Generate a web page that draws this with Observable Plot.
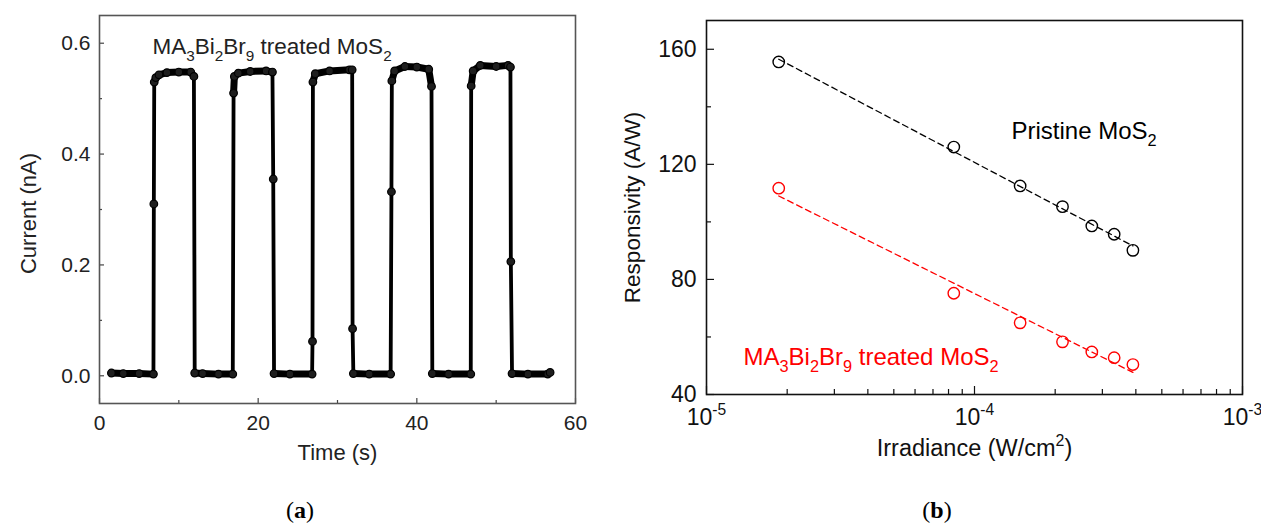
<!DOCTYPE html>
<html><head><meta charset="utf-8">
<script src="https://cdn.jsdelivr.net/npm/d3@7"></script>
<script src="https://cdn.jsdelivr.net/npm/@observablehq/plot@0.6"></script>
<style>
body{margin:0;background:#fff;}
#wrap{position:relative;width:1261px;height:524px;overflow:hidden;background:#fff;font-family:Arial,"Liberation Sans",sans-serif;}
.panel{position:absolute;top:0;}
.cap{position:absolute;top:497px;line-height:26px;font-family:"Liberation Serif","Times New Roman",serif;font-size:24px;color:#000;transform:translateX(-50%);white-space:nowrap;}
</style></head><body>
<div id="wrap">
  <div id="pa" class="panel" style="left:0px"></div>
  <div id="pb" class="panel" style="left:600px"></div>
  <div class="cap" style="left:300px">(<b>a</b>)</div>
  <div class="cap" style="left:937px">(<b>b</b>)</div>
</div>
<script>
// ---------- Panel (a): photocurrent switching ----------
const timeS = [1.5, 3, 5, 6.8, 6.85, 6.9, 7.1, 7.5, 8.5, 10, 11.5, 11.9, 12.0, 13, 15, 16.8, 16.9, 17.0, 17.5, 19, 21, 21.8, 21.9, 22.0, 24, 26.8, 26.85, 26.9, 27.2, 29, 31.5, 31.85, 31.9, 32.0, 34, 36.7, 36.8, 36.85, 37.2, 38.5, 40, 41.5, 41.85, 41.95, 44, 46.8, 46.85, 47.1, 48, 50, 51.5, 51.8, 51.85, 52.0, 54, 56.5, 56.8];
const currentNA = [0.005, 0.004, 0.004, 0.003, 0.31, 0.53, 0.538, 0.543, 0.547, 0.548, 0.548, 0.54, 0.005, 0.004, 0.003, 0.003, 0.51, 0.54, 0.546, 0.549, 0.55, 0.548, 0.355, 0.004, 0.003, 0.003, 0.062, 0.53, 0.545, 0.55, 0.552, 0.552, 0.085, 0.004, 0.003, 0.003, 0.332, 0.532, 0.55, 0.558, 0.557, 0.553, 0.522, 0.004, 0.003, 0.003, 0.523, 0.55, 0.56, 0.558, 0.56, 0.557, 0.206, 0.004, 0.003, 0.003, 0.006];
const xTicksA = [0, 20, 40, 60];
const xMinorA = [10, 30, 50];
const yTicksA = [0, 0.2, 0.4, 0.6];
const yMinorA = [0.1, 0.3, 0.5];
const xLabelA = "Time (s)";
const yLabelA = "Current (nA)";
const noteA = "MA_{3}Bi_{2}Br_{9} treated MoS_{2}";

// ---------- Panel (b): responsivity vs irradiance ----------
const irradiance = [1.86e-5, 8.37e-5, 1.48e-4, 2.13e-4, 2.74e-4, 3.32e-4, 3.90e-4];
const respPristine = [155.6, 126.0, 112.5, 105.3, 98.6, 95.7, 90.1];
const respTreated = [111.7, 75.2, 64.9, 58.3, 54.8, 52.8, 50.4];
const seriesNames = ["Pristine MoS_{2}", "MA_{3}Bi_{2}Br_{9} treated MoS_{2}"];
const seriesColors = ["#000000", "#ff0000"];
const xTicksB = [1e-5, 1e-4, 1e-3];
const yTicksB = [40, 80, 120, 160];
const yMinorB = [60, 100, 140];
const xLabelB = "Irradiance (W/cm^{2})";
const yLabelB = "Responsivity (A/W)";

// ---------- helpers ----------
function rich(el){
  const s = el.textContent;
  if(!/[_^]\{/.test(s)) return;
  while(el.firstChild) el.removeChild(el.firstChild);
  const re = /([_^])\{([^}]*)\}/g; let last = 0, m, shift = 0;
  const add = (txt, kind) => {
    const ts = document.createElementNS("http://www.w3.org/2000/svg","tspan");
    ts.textContent = txt;
    if(kind){
      ts.setAttribute("font-size","68%");
      const d = kind === "_" ? 0.45 : -0.62;
      ts.setAttribute("dy", d + "em");
      shift = d * 0.68;
    } else if(shift){
      ts.setAttribute("dy", (-shift) + "em"); shift = 0;
    }
    el.appendChild(ts);
  };
  while((m = re.exec(s))){ if(m.index > last) add(s.slice(last, m.index)); add(m[2], m[1]); last = re.lastIndex; }
  if(last < s.length) add(s.slice(last));
}
function richAll(svg){
  svg.querySelectorAll("text, tspan").forEach(n => { if(n.children.length === 0) rich(n); });
}
function fitLine(xs, ys){
  const u = xs.map(Math.log10);
  const mu = d3.mean(u), my = d3.mean(ys);
  const b = d3.sum(u, (v,i) => (v-mu)*(ys[i]-my)) / d3.sum(u, v => (v-mu)**2);
  const ends = [d3.min(xs), d3.max(xs)];
  return ends.map(x => ({x, y: my + b*(Math.log10(x)-mu)}));
}

// ---------- Panel (a) ----------
const WA = 600, HA = 490, mA = {left:99, right:25, top:15, bottom:87};
const pwA = WA - mA.left - mA.right, phA = HA - mA.top - mA.bottom;
const ptsA = timeS.map((t,k) => ({t, i: currentNA[k]}));
const bandsA = d3.pairs(ptsA).filter(([a,b]) => Math.abs(a.i - b.i) < 0.05);
const plotA = Plot.plot({
  width: WA, height: HA,
  marginLeft: mA.left, marginRight: mA.right, marginTop: mA.top, marginBottom: mA.bottom,
  x: {domain: [0, 60]},
  y: {domain: [-0.05, 0.65]},
  style: {fontFamily: "Arial, 'Liberation Sans', sans-serif", fontSize: "21px", color: "#222", background: "transparent"},
  marks: [
    Plot.tickX(xTicksA, {x: d => d, insetTop: phA - 5, stroke: "#444", strokeWidth: 1.2}),
    Plot.tickX(xMinorA, {x: d => d, insetTop: phA - 3, stroke: "#444", strokeWidth: 1.2}),
    Plot.tickY(yTicksA, {y: d => d, insetRight: pwA - 5, stroke: "#444", strokeWidth: 1.2}),
    Plot.tickY(yMinorA, {y: d => d, insetRight: pwA - 3, stroke: "#444", strokeWidth: 1.2}),
    Plot.frame({stroke: "#555", strokeWidth: 1.6}),
    Plot.axisX({ticks: xTicksA, tickSize: 0, tickPadding: 12, label: null, fontSize: 21, fill: "#222"}),
    Plot.axisY({ticks: yTicksA, tickSize: 0, tickPadding: 9, label: null, fontSize: 21, fill: "#222", tickFormat: d => d.toFixed(1)}),
    Plot.line(ptsA, {x: "t", y: "i", stroke: "#000", strokeWidth: 3.8}),
    Plot.link(bandsA, {x1: d => d[0].t, y1: d => d[0].i, x2: d => d[1].t, y2: d => d[1].i, stroke: "#000", strokeWidth: 7, strokeLinecap: "round"}),
    Plot.dot(ptsA, {x: "t", y: "i", r: 3.8, fill: "#1e1e1e", stroke: "#000", strokeWidth: 1.2}),
    Plot.text([noteA], {text: d => d, frameAnchor: "top-left", dx: 53, dy: 23, textAnchor: "start", fontSize: 22.5, fill: "#222"}),
    Plot.text([xLabelA], {text: d => d, frameAnchor: "bottom", dy: 56, fontSize: 22, fill: "#222"}),
    Plot.text([yLabelA], {text: d => d, frameAnchor: "left", textAnchor: "middle", dx: -71, dy: 4, rotate: -90, fontSize: 22, fill: "#222"})
  ]
});
richAll(plotA);
document.getElementById("pa").appendChild(plotA);

// ---------- Panel (b) ----------
const WB = 661, HB = 490, mB = {left:106, right:19, top:20, bottom:96};
const pwB = WB - mB.left - mB.right, phB = HB - mB.top - mB.bottom;
const ptsB = [];
[respPristine, respTreated].forEach((ys, s) => ys.forEach((y, k) => ptsB.push({x: irradiance[k], y, s: seriesNames[s], c: seriesColors[s]})));
const fitsB = [respPristine, respTreated].flatMap((ys, s) => fitLine(irradiance, ys).map(p => ({...p, s: seriesNames[s], c: seriesColors[s]})));
const xMinorB = [];
for (const dec of [1e-5, 1e-4]) for (let m = 2; m <= 9; m++) xMinorB.push(m * dec);
const plotB = Plot.plot({
  width: WB, height: HB,
  marginLeft: mB.left, marginRight: mB.right, marginTop: mB.top, marginBottom: mB.bottom,
  x: {type: "log", domain: [1e-5, 1e-3]},
  y: {domain: [40, 170]},
  style: {fontFamily: "Arial, 'Liberation Sans', sans-serif", fontSize: "23px", color: "#111", background: "transparent"},
  marks: [
    Plot.tickX(xTicksB, {x: d => d, insetTop: phB - 8, stroke: "#111", strokeWidth: 1.2}),
    Plot.tickX(xMinorB, {x: d => d, insetTop: phB - 5, stroke: "#111", strokeWidth: 1.2}),
    Plot.tickY(yTicksB, {y: d => d, insetRight: pwB - 8, stroke: "#111", strokeWidth: 1.2}),
    Plot.tickY(yMinorB, {y: d => d, insetRight: pwB - 5, stroke: "#111", strokeWidth: 1.2}),
    Plot.frame({stroke: "#111", strokeWidth: 1.6}),
    Plot.axisX({ticks: xTicksB, tickSize: 0, tickPadding: 14, label: null, fontSize: 23, fill: "#111", tickFormat: d => `10^{${Math.round(Math.log10(d))}}`}),
    Plot.axisY({ticks: yTicksB, tickSize: 0, tickPadding: 10, label: null, fontSize: 23, fill: "#111", tickFormat: d => String(d)}),
    Plot.line(fitsB, {x: "x", y: "y", z: "s", stroke: "c", strokeWidth: 1.3, strokeDasharray: "6,4"}),
    Plot.dot(ptsB, {x: "x", y: "y", stroke: "c", r: 5.7, strokeWidth: 1.4, fill: "none"}),
    Plot.text([seriesNames[0]], {text: d => d, frameAnchor: "top-left", dx: 305, dy: 101, textAnchor: "start", fontSize: 24, fill: seriesColors[0]}),
    Plot.text([seriesNames[1]], {text: d => d, frameAnchor: "top-left", dx: 37, dy: 327, textAnchor: "start", fontSize: 24, fill: seriesColors[1]}),
    Plot.text([xLabelB], {text: d => d, frameAnchor: "bottom", dy: 61, fontSize: 23.5, fill: "#111"}),
    Plot.text([yLabelB], {text: d => d, frameAnchor: "left", textAnchor: "middle", dx: -74, rotate: -90, fontSize: 22.5, fill: "#111"})
  ]
});
richAll(plotB);
document.getElementById("pb").appendChild(plotB);
</script>
</body></html>
